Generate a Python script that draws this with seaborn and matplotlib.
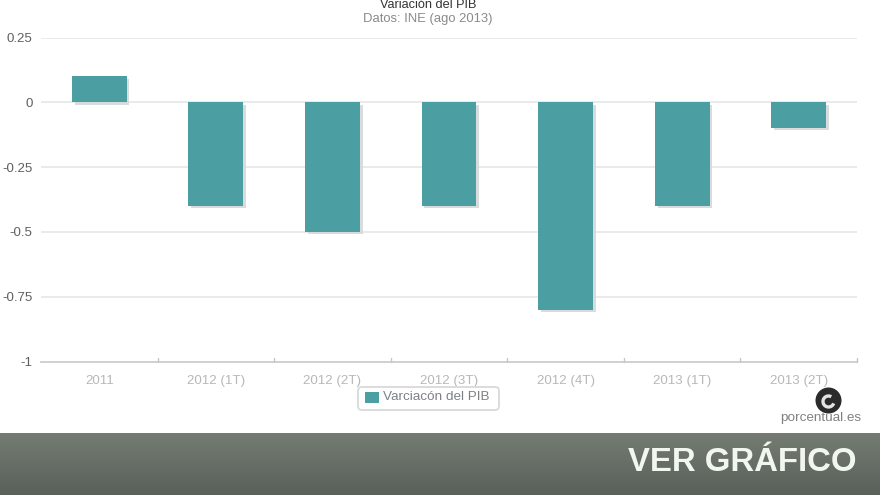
import numpy as np
import pandas as pd
import seaborn as sns
import matplotlib
matplotlib.use("Agg")
import matplotlib.pyplot as plt
import matplotlib.patheffects as pe
from matplotlib.patches import Circle, Rectangle, FancyBboxPatch, Arc

categories = ["2011", "2012 (1T)", "2012 (2T)", "2012 (3T)", "2012 (4T)", "2013 (1T)", "2013 (2T)"]
values = [0.1, -0.4, -0.5, -0.4, -0.8, -0.4, -0.1]
y_ticks = [0.25, 0, -0.25, -0.5, -0.75, -1]
y_labels = ["0.25", "0", "-0.25", "-0.5", "-0.75", "-1"]
title = "Variación del PIB"
subtitle = "Datos: INE (ago 2013)"
series_name = "Varciacón del PIB"
banner_text = "VER GRÁFICO"
brand = "porcentual.es"

W, H = 880, 495
sns.set_theme(style="white")
plt.rcParams["font.family"] = ["Liberation Sans", "DejaVu Sans"]
TEAL = "#4b9fa3"

fig = plt.figure(figsize=(W / 100, H / 100), dpi=100, facecolor="white")

def px_axes(x0, y0, x1, y1, **kw):
    return fig.add_axes([x0 / W, 1 - y1 / H, (x1 - x0) / W, (y1 - y0) / H], **kw)

ax = px_axes(41, 37.5, 857, 361.5)
df = pd.DataFrame({"periodo": categories, "valor": values})
sns.barplot(data=df, x="periodo", y="valor", color=TEAL, saturation=1, width=0.47,
            edgecolor="none", linewidth=0, ax=ax, zorder=3)
for bar in ax.patches:
    bar.set_path_effects([
        pe.SimplePatchShadow(offset=(2, -1.6), shadow_rgbFace="#d6dada", alpha=0.95),
        pe.Normal(),
    ])
ax.set_xlim(-0.5, 6.5)
ax.set_ylim(-1, 0.25)
ax.set_xlabel("")
ax.set_ylabel("")
ax.set_yticks(y_ticks, y_labels)
ax.yaxis.grid(True, color="#e8e8e8", lw=1.3, zorder=0)
ax.set_axisbelow(True)
for s in ["top", "right", "left"]:
    ax.spines[s].set_visible(False)
ax.spines["bottom"].set_color("#cfccd2")
ax.spines["bottom"].set_linewidth(1.3)
ax.tick_params(axis="y", length=0, pad=6, labelsize=9.5, labelcolor="#5f5f5f")
ax.set_xticks(range(7), categories)
ax.tick_params(axis="x", length=0, pad=10, labelsize=9.6, labelcolor="#b8b8b8")
for b in np.arange(0.5, 6.6, 1):
    ax.plot([b, b], [-1, -0.988], color="#c8c4cc", lw=1, clip_on=False, zorder=4)

fig.text(428 / W, 1 - 5 / H, title, ha="center", va="center", fontsize=9.2, color="#333333")
fig.text(428 / W, 1 - 19 / H, subtitle, ha="center", va="center", fontsize=9.4, color="#8a8a8a")

ov = fig.add_axes([0, 0, 1, 1], zorder=10)
ov.set_xlim(0, W)
ov.set_ylim(H, 0)
ov.axis("off")
ov.patch.set_alpha(0)

# legend
ov.add_patch(FancyBboxPatch((358, 387), 141, 23, boxstyle="round,pad=0,rounding_size=4",
                            fc="white", ec="#dcdcdc", lw=1.4))
ov.add_patch(Rectangle((365, 392), 14, 11, fc=TEAL, ec="none"))
ov.text(383, 397.5, series_name, ha="left", va="center", fontsize=9.7, color="#7d8186")

# logo
ov.add_patch(Circle((828.5, 400.5), 13, fc="#2b2b2b", ec="none"))
ov.add_patch(Arc((828.5, 401.5), 11, 11, theta1=20, theta2=300, ec="#e4e4e4", lw=2.4))
ov.text(821, 418.5, brand, ha="center", va="center", fontsize=9.7, color="#7d8184")

# banner
top, bottom = np.array([0x74, 0x7c, 0x72]), np.array([0x5a, 0x60, 0x5a])
t = np.linspace(0, 1, 62)[:, None, None]
img = top * (1 - t) + bottom * t
ov.imshow(img.astype(np.uint8), extent=(0, W, 495, 433), aspect="auto", zorder=1)
ov.set_xlim(0, W)
ov.set_ylim(H, 0)
ov.text(856, 462.5, banner_text, ha="right", va="center", fontsize=23.7, fontweight="bold",
        color="#f1f6ee", zorder=2)

fig.savefig("out.png", dpi=100, facecolor="white")
